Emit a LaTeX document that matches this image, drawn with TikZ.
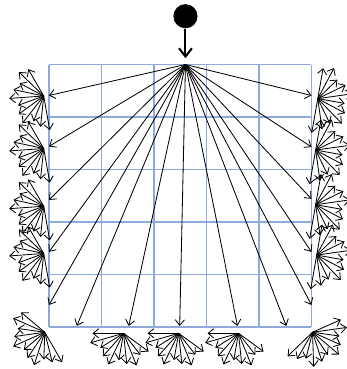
\documentclass[tikz,border=0pt]{standalone}
\usepackage{tikz}
\usetikzlibrary{arrows.meta,calc}
\definecolor{gridblue}{HTML}{8EAADB}

\begin{document}
\begin{tikzpicture}[
  ray/.style={-{Straight Barb[length=3pt,width=5pt]}, line width=0.45pt},
  spray/.style={-{Straight Barb[length=3pt,width=5pt]}, line width=0.45pt},
  ball/.style={circle, fill=black, minimum size=0.46cm, inner sep=0pt}
]
  \useasboundingbox (-0.933,-0.8) rectangle (5.676,6.229);

  % Grid
  \draw[gridblue, line width=0.6pt] (0,0) grid (5,5);

  % Incoming particle
  \node[ball] (ball) at (2.6,5.92) {};
  \coordinate (src) at (2.6,5);
  \coordinate (hit) at (2.6,5.12);
  \draw[-{Straight Barb[length=4.5pt,width=7pt]}, line width=1.1pt] (ball) -- (hit);

  % Rays to the boundary
  \foreach \tx/\ty [count=\i] in {0/4.41, 0/3.44, 0/2.42, 0/1.43, 0/0.42,
      0.53/0.02, 1.52/0.02, 2.49/0.02, 3.59/0.02, 4.52/0.02,
      5/4.41, 5/3.43, 5/2.44, 5/1.43, 5/0.42}{
    \coordinate (t\i) at (\tx,\ty);
    \draw[ray] (src) -- (t\i);
  }

  % Secondary fans
  \foreach \fx/\fy/\a/\c/\b [count=\k] in {
      -0.1/4.4/120/136/280, -0.1/3.4/120/136/280,
      -0.1/2.3/120/136/280, -0.1/1.4/120/136/280,
      5.12/4.35/80/62/-100, 5.08/3.37/80/62/-100,
      5.08/2.33/80/62/-100, 5.1/1.37/80/62/-100,
      -0.08/-0.1/140/156/300,
      1.42/-0.12/180/196/324, 2.47/-0.12/180/196/324, 3.61/-0.12/180/196/324,
      5.02/-0.1/24/8/-136}{
    \coordinate (fan\k) at (\fx,\fy);
    \foreach \t [count=\j] in {\a,\c,...,\b}
      \draw[spray] (fan\k) -- ++(\t:{0.52+0.07*mod(\j,3)});
  }
\end{tikzpicture}
\end{document}
